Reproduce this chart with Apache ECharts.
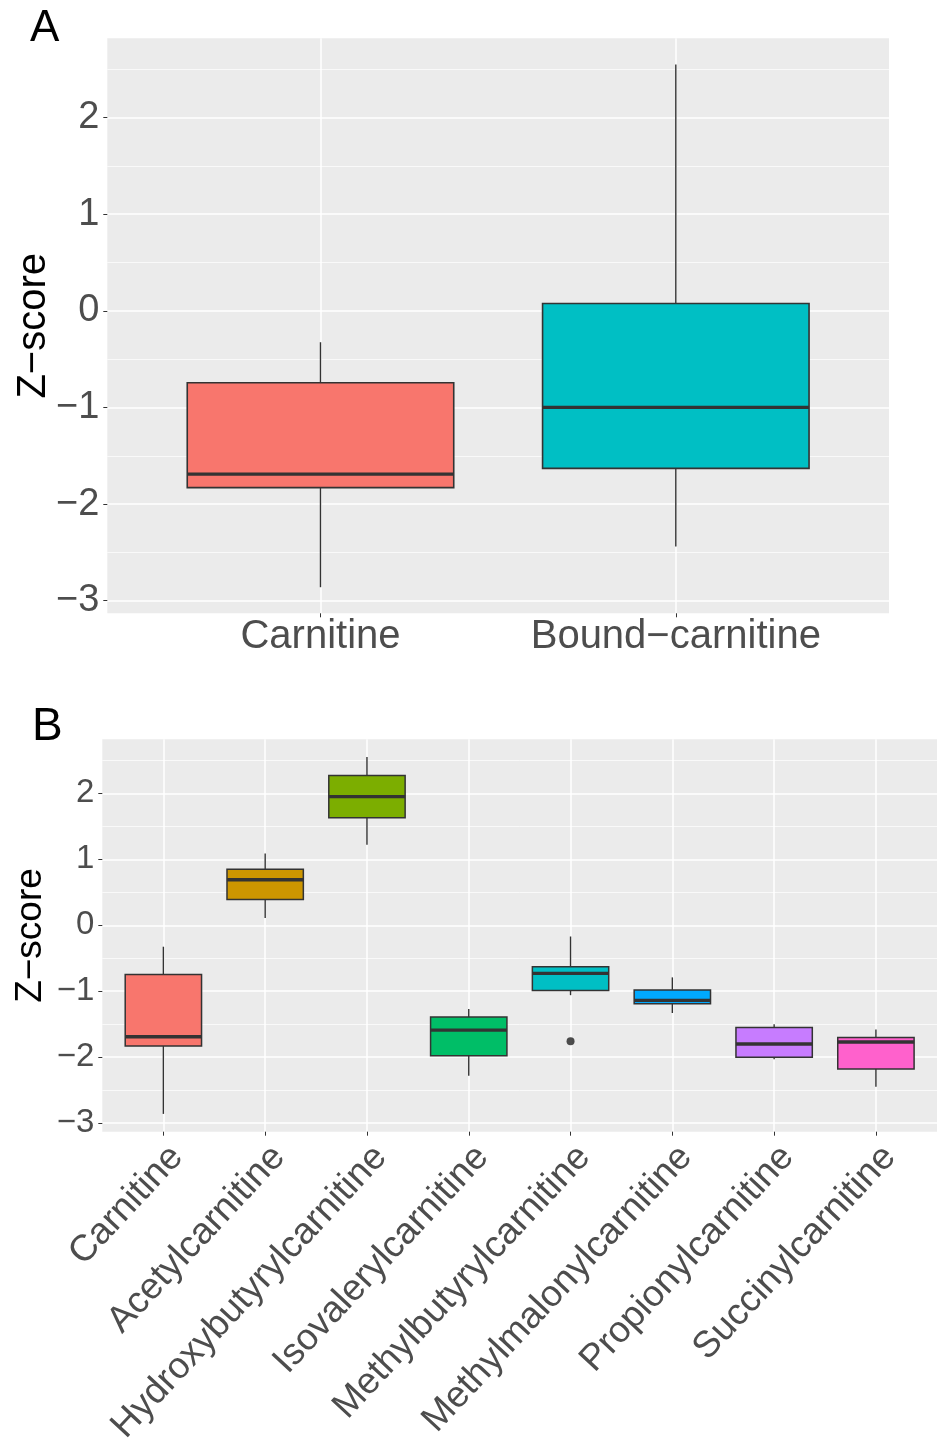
<!DOCTYPE html>
<html>
<head>
<meta charset="utf-8">
<script src="https://cdn.jsdelivr.net/npm/echarts@6/dist/echarts.min.js"></script>
<style>
  html, body { margin: 0; padding: 0; background: #ffffff; }
  #chart { width: 937px; height: 1448px; }
</style>
</head>
<body>
<div id="chart"></div>
<script>
// ---------- Panel A data ----------
const catsA = ['Carnitine', 'Bound\u2212carnitine'];
const colorsA = ['#F8766D', '#00BFC4'];
const minA = [-2.86, -2.44];
const q1A  = [-1.83, -1.63];
const medA = [-1.69, -1.00];
const q3A  = [-0.745, 0.075];
const maxA = [-0.325, 2.55];

// ---------- Panel B data ----------
const catsB = ['Carnitine', 'Acetylcarnitine', 'Hydroxybutyrylcarnitine', 'Isovalerylcarnitine',
               'Methylbutyrylcarnitine', 'Methylmalonylcarnitine', 'Propionylcarnitine', 'Succinylcarnitine'];
const colorsB = ['#F8766D', '#CD9600', '#7CAE00', '#00BE67', '#00BFC4', '#00A9FF', '#C77CFF', '#FF61CC'];
const minB = [-2.86, 0.11, 1.22, -2.28, -1.06, -1.33, -2.03, -2.45];
const q1B  = [-1.83, 0.39, 1.63, -1.98, -0.99, -1.19, -2.00, -2.18];
const medB = [-1.69, 0.69, 1.95, -1.59, -0.73, -1.14, -1.80, -1.77];
const q3B  = [-0.745, 0.85, 2.27, -1.39, -0.63, -0.98, -1.55, -1.70];
const maxB = [-0.325, 1.09, 2.55, -1.27, -0.17, -0.79, -1.50, -1.58];
const outliersB = [[4, -1.76]];

const yTicks = [-3, -2, -1, 0, 1, 2];
const yMin = -3.13, yMax = 2.82;

const FONT = '"Liberation Sans", Arial, Helvetica, sans-serif';

function fmtY(v) { return v < 0 ? '\u2212' + Math.abs(v) : String(v); }

function boxData(mins, q1, med, q3, maxs, colors) {
  return mins.map((_, i) => ({
    value: [i, mins[i], q1[i], med[i], q3[i], maxs[i]],
    itemStyle: { color: colors[i] }
  }));
}

function makeRender(borderW, medW, whiskW) {
  return function (params, api) {
    const i = api.value(0);
    const lo = api.value(1), a = api.value(2), m = api.value(3), b = api.value(4), hi = api.value(5);
    const half = 0.375;
    const tl = api.coord([i - half, b]);
    const br = api.coord([i + half, a]);
    const pm = api.coord([i, m]);
    const phi = api.coord([i, hi]);
    const plo = api.coord([i, lo]);
    const color = api.visual('color');
    return {
      type: 'group',
      children: [
        { type: 'line', shape: { x1: pm[0], y1: phi[1], x2: pm[0], y2: tl[1] },
          style: { stroke: '#333333', lineWidth: whiskW } },
        { type: 'line', shape: { x1: pm[0], y1: br[1], x2: pm[0], y2: plo[1] },
          style: { stroke: '#333333', lineWidth: whiskW } },
        { type: 'rect', shape: { x: tl[0], y: tl[1], width: br[0] - tl[0], height: br[1] - tl[1] },
          style: { fill: color, stroke: '#333333', lineWidth: borderW } },
        { type: 'line', shape: { x1: tl[0], y1: pm[1], x2: br[0], y2: pm[1] },
          style: { stroke: '#333333', lineWidth: medW } }
      ]
    };
  };
}

function yAxisCfg(gridIndex, fontSize, nameSize, nameGap) {
  return {
    type: 'value', gridIndex: gridIndex, min: yMin, max: yMax,
    name: 'Z\u2212score', nameLocation: 'middle', nameGap: nameGap, nameMoveOverlap: false,
    nameTextStyle: { fontSize: nameSize, color: '#000000', fontFamily: FONT },
    axisLine: { show: false, onZero: false },
    axisTick: { show: true, length: 4, lineStyle: { color: '#333333', width: 1 }, customValues: yTicks },
    axisLabel: { fontSize: fontSize, color: '#4D4D4D', fontFamily: FONT, margin: 8,
                 customValues: yTicks, formatter: fmtY },
    splitLine: { show: true, lineStyle: { color: '#FFFFFF', width: 1.5 } },
    minorTick: { show: false, splitNumber: 2 },
    minorSplitLine: { show: true, lineStyle: { color: '#FFFFFF', width: 0.7 } }
  };
}

function xAxisCfg(gridIndex, cats, labelCfg) {
  const vals = cats.map((_, i) => i);
  return {
    type: 'value', gridIndex: gridIndex, min: -0.6, max: cats.length - 1 + 0.6,
    axisLine: { show: false, onZero: false },
    axisTick: { show: true, length: 4, lineStyle: { color: '#333333', width: 1 }, customValues: vals },
    axisLabel: Object.assign({ color: '#4D4D4D', fontFamily: FONT, customValues: vals,
                               formatter: (v) => cats[Math.round(v)] }, labelCfg),
    splitLine: { show: true, lineStyle: { color: '#FFFFFF', width: 1.5 } },
    minorSplitLine: { show: false }
  };
}

const chart = echarts.init(document.getElementById('chart'), null, { renderer: 'canvas' });

chart.setOption({
  animation: false,
  backgroundColor: '#FFFFFF',
  title: [
    { text: 'A', left: 25, top: 2, textStyle: { fontSize: 44, fontWeight: 'normal', color: '#000', fontFamily: FONT } },
    { text: 'B', left: 27, top: 699, textStyle: { fontSize: 46, fontWeight: 'normal', color: '#000', fontFamily: FONT } }
  ],
  grid: [
    { left: 107.3, right: 48, top: 38.3, height: 575, show: true, backgroundColor: '#EBEBEB', borderWidth: 0 },
    { left: 102.3, right: 0, top: 739.3, height: 392.4, show: true, backgroundColor: '#EBEBEB', borderWidth: 0 }
  ],
  xAxis: [
    xAxisCfg(0, catsA, { fontSize: 40, margin: 4 }),
    xAxisCfg(1, catsB, { fontSize: 37, margin: 7, rotate: 47, align: 'right', verticalAlign: 'top' })
  ],
  yAxis: [
    yAxisCfg(0, 38, 40, 53),
    yAxisCfg(1, 33, 37, 53)
  ],
  series: [
    {
      type: 'custom', xAxisIndex: 0, yAxisIndex: 0,
      renderItem: makeRender(1.6, 3.3, 1.4),
      encode: { x: 0, y: [1, 2, 3, 4, 5] },
      data: boxData(minA, q1A, medA, q3A, maxA, colorsA)
    },
    {
      type: 'custom', xAxisIndex: 1, yAxisIndex: 1,
      renderItem: makeRender(1.5, 3.3, 1.4),
      encode: { x: 0, y: [1, 2, 3, 4, 5] },
      data: boxData(minB, q1B, medB, q3B, maxB, colorsB)
    },
    {
      type: 'scatter', xAxisIndex: 1, yAxisIndex: 1,
      symbol: 'circle', symbolSize: 8,
      itemStyle: { color: '#222222' },
      data: outliersB
    }
  ]
});
</script>
</body>
</html>
